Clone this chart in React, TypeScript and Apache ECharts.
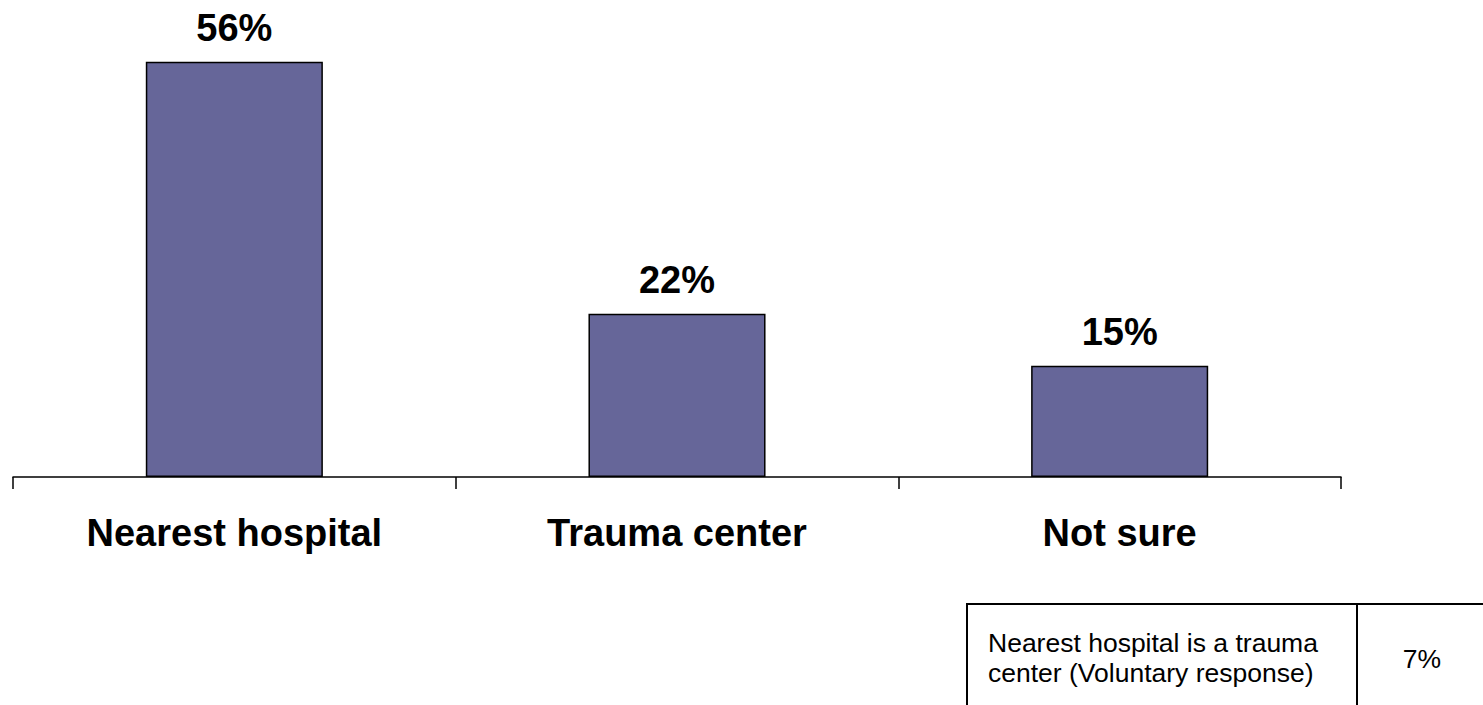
import React, { useEffect, useRef } from "react";
import * as echarts from "echarts";

const categories = ["Nearest hospital", "Trauma center", "Not sure"];
const values = [56, 22, 15];
const tableLabel = ["Nearest hospital is a trauma", "center (Voluntary response)"];
const tableValue = "7%";

const FONT = '"Liberation Sans", Arial, Helvetica, sans-serif';

export default function App() {
  const ref = useRef<HTMLDivElement>(null);
  useEffect(() => {
    if (!ref.current) return;
    const chart = echarts.init(ref.current, null, { renderer: "svg" });
    chart.setOption({
      animation: false,
      backgroundColor: "#ffffff",
      grid: { left: 13, right: 142, top: 32, bottom: 228, containLabel: false },
      xAxis: {
        type: "category",
        data: categories,
        axisLine: { show: true, lineStyle: { color: "#000000", width: 1.5 } },
        axisTick: { show: true, length: 12, lineStyle: { color: "#000000", width: 1.5 } },
        axisLabel: {
          margin: 37,
          color: "#000000",
          fontFamily: FONT,
          fontWeight: "bold",
          fontSize: 38,
        },
      },
      yAxis: {
        type: "value",
        min: 0,
        max: 60,
        show: false,
        splitLine: { show: false },
      },
      series: [
        {
          type: "bar",
          data: values,
          barWidth: "40%",
          itemStyle: { color: "#666699", borderColor: "#000000", borderWidth: 1.5 },
          label: {
            show: true,
            position: "top",
            distance: 15,
            formatter: "{c}%",
            color: "#000000",
            fontFamily: FONT,
            fontWeight: "bold",
            fontSize: 38,
          },
        },
      ],
      graphic: [
        {
          type: "rect",
          shape: { x: 967, y: 604, width: 600, height: 200 },
          style: { fill: "#ffffff", stroke: "#000000", lineWidth: 2 },
        },
        {
          type: "line",
          shape: { x1: 1357, y1: 604, x2: 1357, y2: 720 },
          style: { stroke: "#000000", lineWidth: 2 },
        },
        {
          type: "text",
          x: 988,
          y: 658,
          style: {
            text: tableLabel.join("\n"),
            fontFamily: FONT,
            fontSize: 26.5,
            lineHeight: 30,
            fill: "#000000",
            verticalAlign: "middle",
            align: "left",
          },
        },
        {
          type: "text",
          x: 1422,
          y: 659,
          style: {
            text: tableValue,
            fontFamily: FONT,
            fontSize: 26.5,
            fill: "#000000",
            verticalAlign: "middle",
            align: "center",
          },
        },
      ],
    });
    return () => chart.dispose();
  }, []);
  return (
    <div
      ref={ref}
      style={{ position: "absolute", left: 0, top: 0, width: 1483, height: 705 }}
    />
  );
}
